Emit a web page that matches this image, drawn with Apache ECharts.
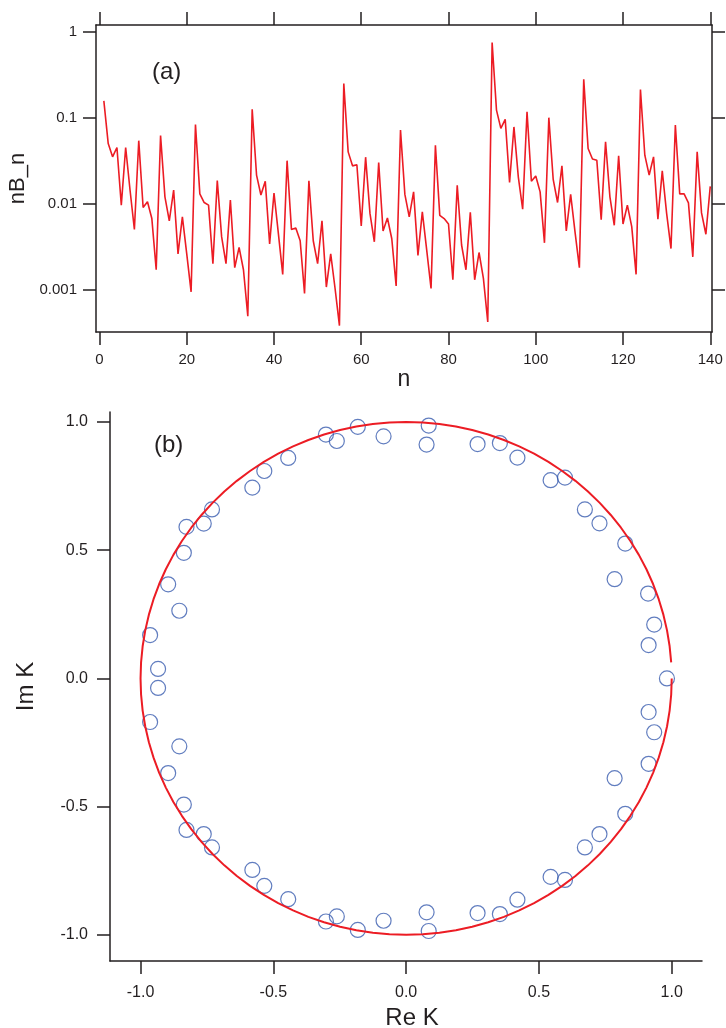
<!DOCTYPE html>
<html>
<head>
<meta charset="utf-8">
<script src="https://cdn.jsdelivr.net/npm/echarts@6/dist/echarts.min.js"></script>
<style>
html,body{margin:0;padding:0;background:#fff;}
#chart{width:726px;height:1028px;}
</style>
</head>
<body>
<div id="chart"></div>
<script>
// ---------- Panel (a) data ----------
var nBn = [
0.157,0.050,0.035,0.045,0.0096,0.045,0.0144,0.005,0.054,0.009,
0.0105,0.0067,0.0017,0.062,0.012,0.0063,0.0144,0.0026,0.0070,0.0026,
0.00094,0.083,0.013,0.0103,0.0096,0.0020,0.0186,0.0041,0.0020,0.011,
0.0018,0.0031,0.0017,0.00049,0.125,0.0215,0.0126,0.0182,0.0034,0.0133,
0.0045,0.0015,0.0316,0.0050,0.0052,0.0037,0.00090,0.0184,0.0037,0.0020,
0.0063,0.00107,0.0026,0.00103,0.00038,0.25,0.040,0.0275,0.0283,0.0055,
0.0347,0.0077,0.0036,0.030,0.0048,0.0068,0.0039,0.0011,0.0717,0.0128,
0.0070,0.0137,0.0025,0.0080,0.0029,0.00103,0.0476,0.0073,0.0067,0.0058,
0.0013,0.0163,0.0033,0.0017,0.0079,0.0013,0.0027,0.00135,0.00042,0.75,
0.1225,0.075,0.0955,0.0176,0.078,0.0205,0.0086,0.117,0.0182,0.021,
0.0137,0.0035,0.10,0.0191,0.0103,0.0275,0.0048,0.0128,0.0047,0.0018,
0.279,0.0438,0.033,0.032,0.0065,0.0524,0.012,0.0056,0.036,0.0058,
0.0096,0.0054,0.0015,0.213,0.0366,0.0215,0.035,0.0066,0.024,0.0077,
0.0030,0.082,0.013,0.013,0.0102,0.0024,0.040,0.0078,0.0044,0.0159
];
var xTicksA = [0,20,40,60,80,100,120,140];
var xTickLabelsA = ['0','20','40','60','80','100','120','140'];
var yTicksA = [0.001,0.01,0.1,1];
var yTickLabelsA = ['0.001','0.01','0.1','1'];

// ---------- Panel (b) data ----------
var reK = [
-0.964,-0.934,-0.896,-0.854,-0.837,-0.827,-0.762,-0.731,-0.579,-0.534,
-0.444,-0.302,-0.261,-0.182,-0.085,0.085,0.077,0.269,0.353,0.419,
0.544,0.598,0.673,0.728,0.825,0.785,0.911,0.934,0.913,
0.982,
-0.934,-0.964,-0.854,-0.896,-0.837,-0.827,-0.762,-0.731,-0.579,-0.534,
-0.444,-0.302,-0.261,-0.182,-0.085,0.077,0.085,0.269,0.353,0.419,
0.544,0.598,0.673,0.728,0.825,0.785,0.913,0.934,0.913
];
var imK = [
0.169,0.037,0.367,0.264,0.490,0.591,0.604,0.659,0.744,0.809,
0.860,0.951,0.926,0.981,0.944,0.986,0.912,0.914,0.918,0.861,
0.773,0.783,0.659,0.605,0.526,0.387,0.331,0.210,0.130,
0.0,
-0.037,-0.170,-0.265,-0.369,-0.492,-0.591,-0.607,-0.659,-0.747,-0.809,
-0.861,-0.948,-0.928,-0.981,-0.945,-0.912,-0.985,-0.915,-0.919,-0.863,
-0.774,-0.786,-0.659,-0.607,-0.528,-0.389,-0.333,-0.210,-0.131
];
var ticksB = [-1.0,-0.5,0.0,0.5,1.0];
var tickLabelsB = ['-1.0','-0.5','0.0','0.5','1.0'];
// unit circle |K| = 1, sampled at 100 angles (k = 1..100)
var circleSamples = 100;

// ---------- build series data ----------
var lineData = nBn.map(function(v, i){ return [i + 1, v]; });
var scatterData = reK.map(function(r, i){ return [r, imK[i]]; });
var circleData = [];
for (var k = 1; k <= circleSamples; k++) {
  var th = 2 * Math.PI * k / circleSamples;
  circleData.push([Math.cos(th), Math.sin(th)]);
}

var AX = '#231f20';
var RED = '#ec1c24';
var BLUE = '#3a5daf';
var FONT = 'Liberation Sans';

function logLabel(v){
  for (var i = 0; i < yTicksA.length; i++) {
    if (Math.abs(Math.log10(v) - Math.log10(yTicksA[i])) < 1e-6) return yTickLabelsA[i];
  }
  return '';
}
function xLabelA(v){
  var i = xTicksA.indexOf(Math.round(v));
  return i >= 0 ? xTickLabelsA[i] : '';
}
function labelB(v){
  for (var i = 0; i < ticksB.length; i++) {
    if (Math.abs(v - ticksB[i]) < 1e-6) return tickLabelsB[i];
  }
  return '';
}

var lineSt = {color: AX, width: 1.5};

var chart = echarts.init(document.getElementById('chart'), null, {renderer:'canvas'});
chart.setOption({
  backgroundColor: '#ffffff',
  animation: false,
  textStyle: {fontFamily: FONT},
  grid: [
    {left: 96, top: 25, width: 616, height: 307, outerBoundsMode: 'none', containLabel: false},
    {left: 110, top: 412, width: 592, height: 549, outerBoundsMode: 'none', containLabel: false}
  ],
  graphic: [
    {type:'text', left: 152, top: 60, style:{text:'(a)', font:'24px "Liberation Sans"', fill: AX}},
    {type:'text', left: 154, top: 433, style:{text:'(b)', font:'24px "Liberation Sans"', fill: AX}}
  ],
  xAxis: [
    {
      gridIndex: 0, type: 'value', position: 'bottom', min: -0.8, max: 140.4,
      axisLine: {show: true, onZero: false, lineStyle: lineSt},
      axisTick: {show: true, inside: false, length: 13, customValues: xTicksA, lineStyle: lineSt},
      axisLabel: {show: true, margin: 20, customValues: xTicksA, formatter: xLabelA, fontSize: 15, color: AX, fontFamily: FONT},
      splitLine: {show: false},
      name: 'n', nameLocation: 'middle', nameGap: 33,
      nameTextStyle: {fontSize: 23, color: AX, fontFamily: FONT}
    },
    {
      gridIndex: 0, type: 'value', position: 'top', min: -0.8, max: 140.4,
      axisLine: {show: true, onZero: false, lineStyle: lineSt},
      axisTick: {show: true, inside: false, length: 13, customValues: xTicksA, lineStyle: lineSt},
      axisLabel: {show: false},
      splitLine: {show: false}
    },
    {
      gridIndex: 1, type: 'value', position: 'bottom', min: -1.115, max: 1.114,
      axisLine: {show: true, onZero: false, lineStyle: lineSt},
      axisTick: {show: true, inside: false, length: 13, customValues: ticksB, lineStyle: lineSt},
      axisLabel: {show: true, margin: 24, customValues: ticksB, formatter: labelB, fontSize: 16, color: AX, fontFamily: FONT},
      splitLine: {show: false},
      name: 'Re K', nameLocation: 'middle', nameGap: 36,
      nameTextStyle: {fontSize: 24, color: AX, fontFamily: FONT, padding: [0,0,0,12]}
    }
  ],
  yAxis: [
    {
      gridIndex: 0, type: 'log', logBase: 10, position: 'left', min: 0.000321, max: 1.197,
      axisLine: {show: true, onZero: false, lineStyle: lineSt},
      axisTick: {show: true, inside: false, length: 13, customValues: yTicksA, lineStyle: lineSt},
      axisLabel: {show: true, margin: 19, customValues: yTicksA, formatter: logLabel, fontSize: 15, color: AX, fontFamily: FONT},
      splitLine: {show: false},
      minorTick: {show: false}, minorSplitLine: {show: false},
      name: 'nB_n', nameLocation: 'middle', nameGap: 59,
      nameTextStyle: {fontSize: 22, color: AX, fontFamily: FONT}
    },
    {
      gridIndex: 0, type: 'log', logBase: 10, position: 'right', min: 0.000321, max: 1.197,
      axisLine: {show: true, onZero: false, lineStyle: lineSt},
      axisTick: {show: true, inside: false, length: 13, customValues: yTicksA, lineStyle: lineSt},
      axisLabel: {show: false},
      splitLine: {show: false}
    },
    {
      gridIndex: 1, type: 'value', position: 'left', min: -1.102, max: 1.039,
      axisLine: {show: true, onZero: false, lineStyle: lineSt},
      axisTick: {show: true, inside: false, length: 13, customValues: ticksB, lineStyle: lineSt},
      axisLabel: {show: true, margin: 22, customValues: ticksB, formatter: labelB, fontSize: 16, color: AX, fontFamily: FONT},
      splitLine: {show: false},
      name: 'Im K', nameLocation: 'middle', nameGap: 72,
      nameTextStyle: {fontSize: 24, color: AX, fontFamily: FONT}
    }
  ],
  series: [
    {
      type: 'line', xAxisIndex: 0, yAxisIndex: 0, data: lineData,
      symbol: 'none', smooth: false,
      lineStyle: {color: RED, width: 1.6}
    },
    {
      type: 'line', xAxisIndex: 2, yAxisIndex: 2, data: circleData,
      symbol: 'none', smooth: false,
      lineStyle: {color: RED, width: 2}
    },
    {
      type: 'scatter', xAxisIndex: 2, yAxisIndex: 2, data: scatterData,
      symbol: 'circle', symbolSize: 15,
      itemStyle: {color: 'rgba(0,0,0,0)', borderColor: BLUE, borderWidth: 1.2}
    }
  ]
});
</script>
</body>
</html>
